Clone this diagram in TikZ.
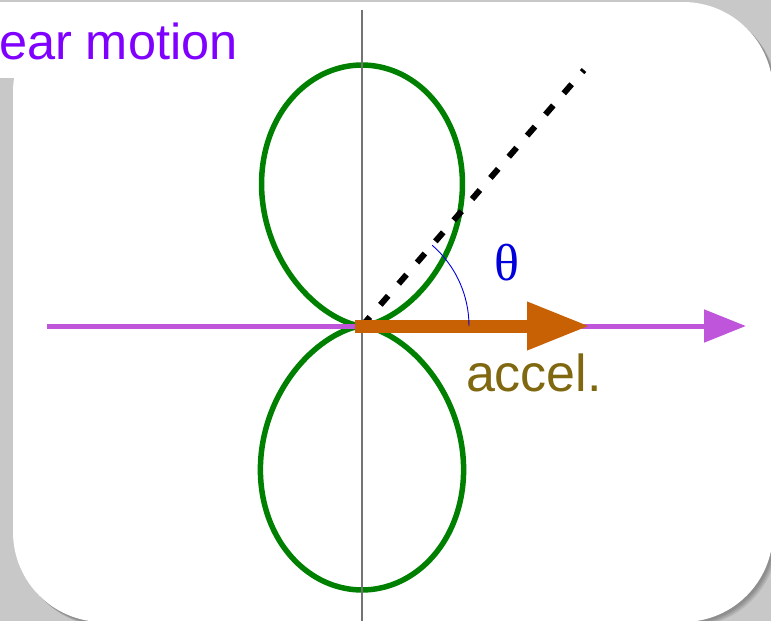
\documentclass[tikz,border=0pt]{standalone}
\usepackage{fontspec}
\setmainfont{Liberation Sans}
\newfontfamily\greekfont{Liberation Serif}
\usetikzlibrary{arrows.meta, positioning, calc}

\definecolor{slidegray}{RGB}{200,200,200}
\definecolor{titlepurple}{RGB}{128,0,255}
\definecolor{axispurple}{RGB}{191,85,219}
\definecolor{accorange}{RGB}{200,96,4}
\definecolor{lobegreen}{RGB}{0,128,0}
\definecolor{accolive}{RGB}{128,104,16}
\definecolor{thetablue}{RGB}{0,0,220}

\begin{document}
\begin{tikzpicture}[
        x=1pt, y=-1pt,
        every node/.style={inner sep=0pt, outer sep=0pt},
        axis/.style={axispurple, line width=5pt, -{Triangle[length=42pt, width=32pt]}},
        accel/.style={accorange, line width=13pt, -{Triangle[length=63pt, width=45pt]}},
        lobe/.style={lobegreen, line width=5.5pt},
        sightline/.style={line width=6pt, dash pattern=on 12pt off 16pt}
    ]

    \tikzset{
    vline/.style={black!55, line width=1.4pt},
    anglearc/.style={thetablue, line width=0.9pt}
}

    \useasboundingbox (0,0) rectangle (771,621);
    \fill[slidegray] (0,0) rectangle (771,621);
    \foreach \s in {2,3,4,5}
        \fill[black, opacity=0.08, rounded corners=90pt] (13+\s,2+\s) rectangle (773+\s,622+\s);
    \fill[white, rounded corners=90pt] (13,2) rectangle (773,622);
    \fill[white] (0,2) rectangle (262,78);

    \node[titlepurple, font=\fontsize{50.5}{60}\selectfont, anchor=base west] (title) at (-1,59) {ear motion};

    \coordinate (O) at (362,326);
    \coordinate (vtop) at (362,10);
    \coordinate (vbot) at (362,621);
    \coordinate (axstart) at (47,326);
    \coordinate (axend) at (746,326);
    \coordinate (accstart) at (355,326);
    \coordinate (acctip) at (590,326);
    \coordinate (dirend) at ($(O)+(222,-256)$);

    \draw[lobe, shift={(O)}] plot[domain=0:180, samples=150, smooth]
        ({261*sin(\x)*sin(\x)*cos(\x)}, {-261*sin(\x)*sin(\x)*sin(\x)});
    \draw[lobe, shift={(O)}] plot[domain=180:360, samples=150, smooth]
        ({264*sin(\x)*sin(\x)*cos(\x)}, {-264*sin(\x)*sin(\x)*sin(\x)});

    \draw[vline] (vtop) -- (vbot);
    \draw[axis] (axstart) -- (axend);
    \draw[sightline] (O) -- (dirend);
    \draw[accel] (accstart) -- (acctip);
    \draw[anglearc] ($(O)+(107,0)$) arc[start angle=0, end angle=49, radius=107pt];

    \node[thetablue, font=\greekfont\fontsize{52}{56}\selectfont] (theta) at (507,263) {θ};
    \node[accolive, font=\fontsize{52}{60}\selectfont, anchor=base west] (accel) at (466,391) {accel.};
\end{tikzpicture}
\end{document}
